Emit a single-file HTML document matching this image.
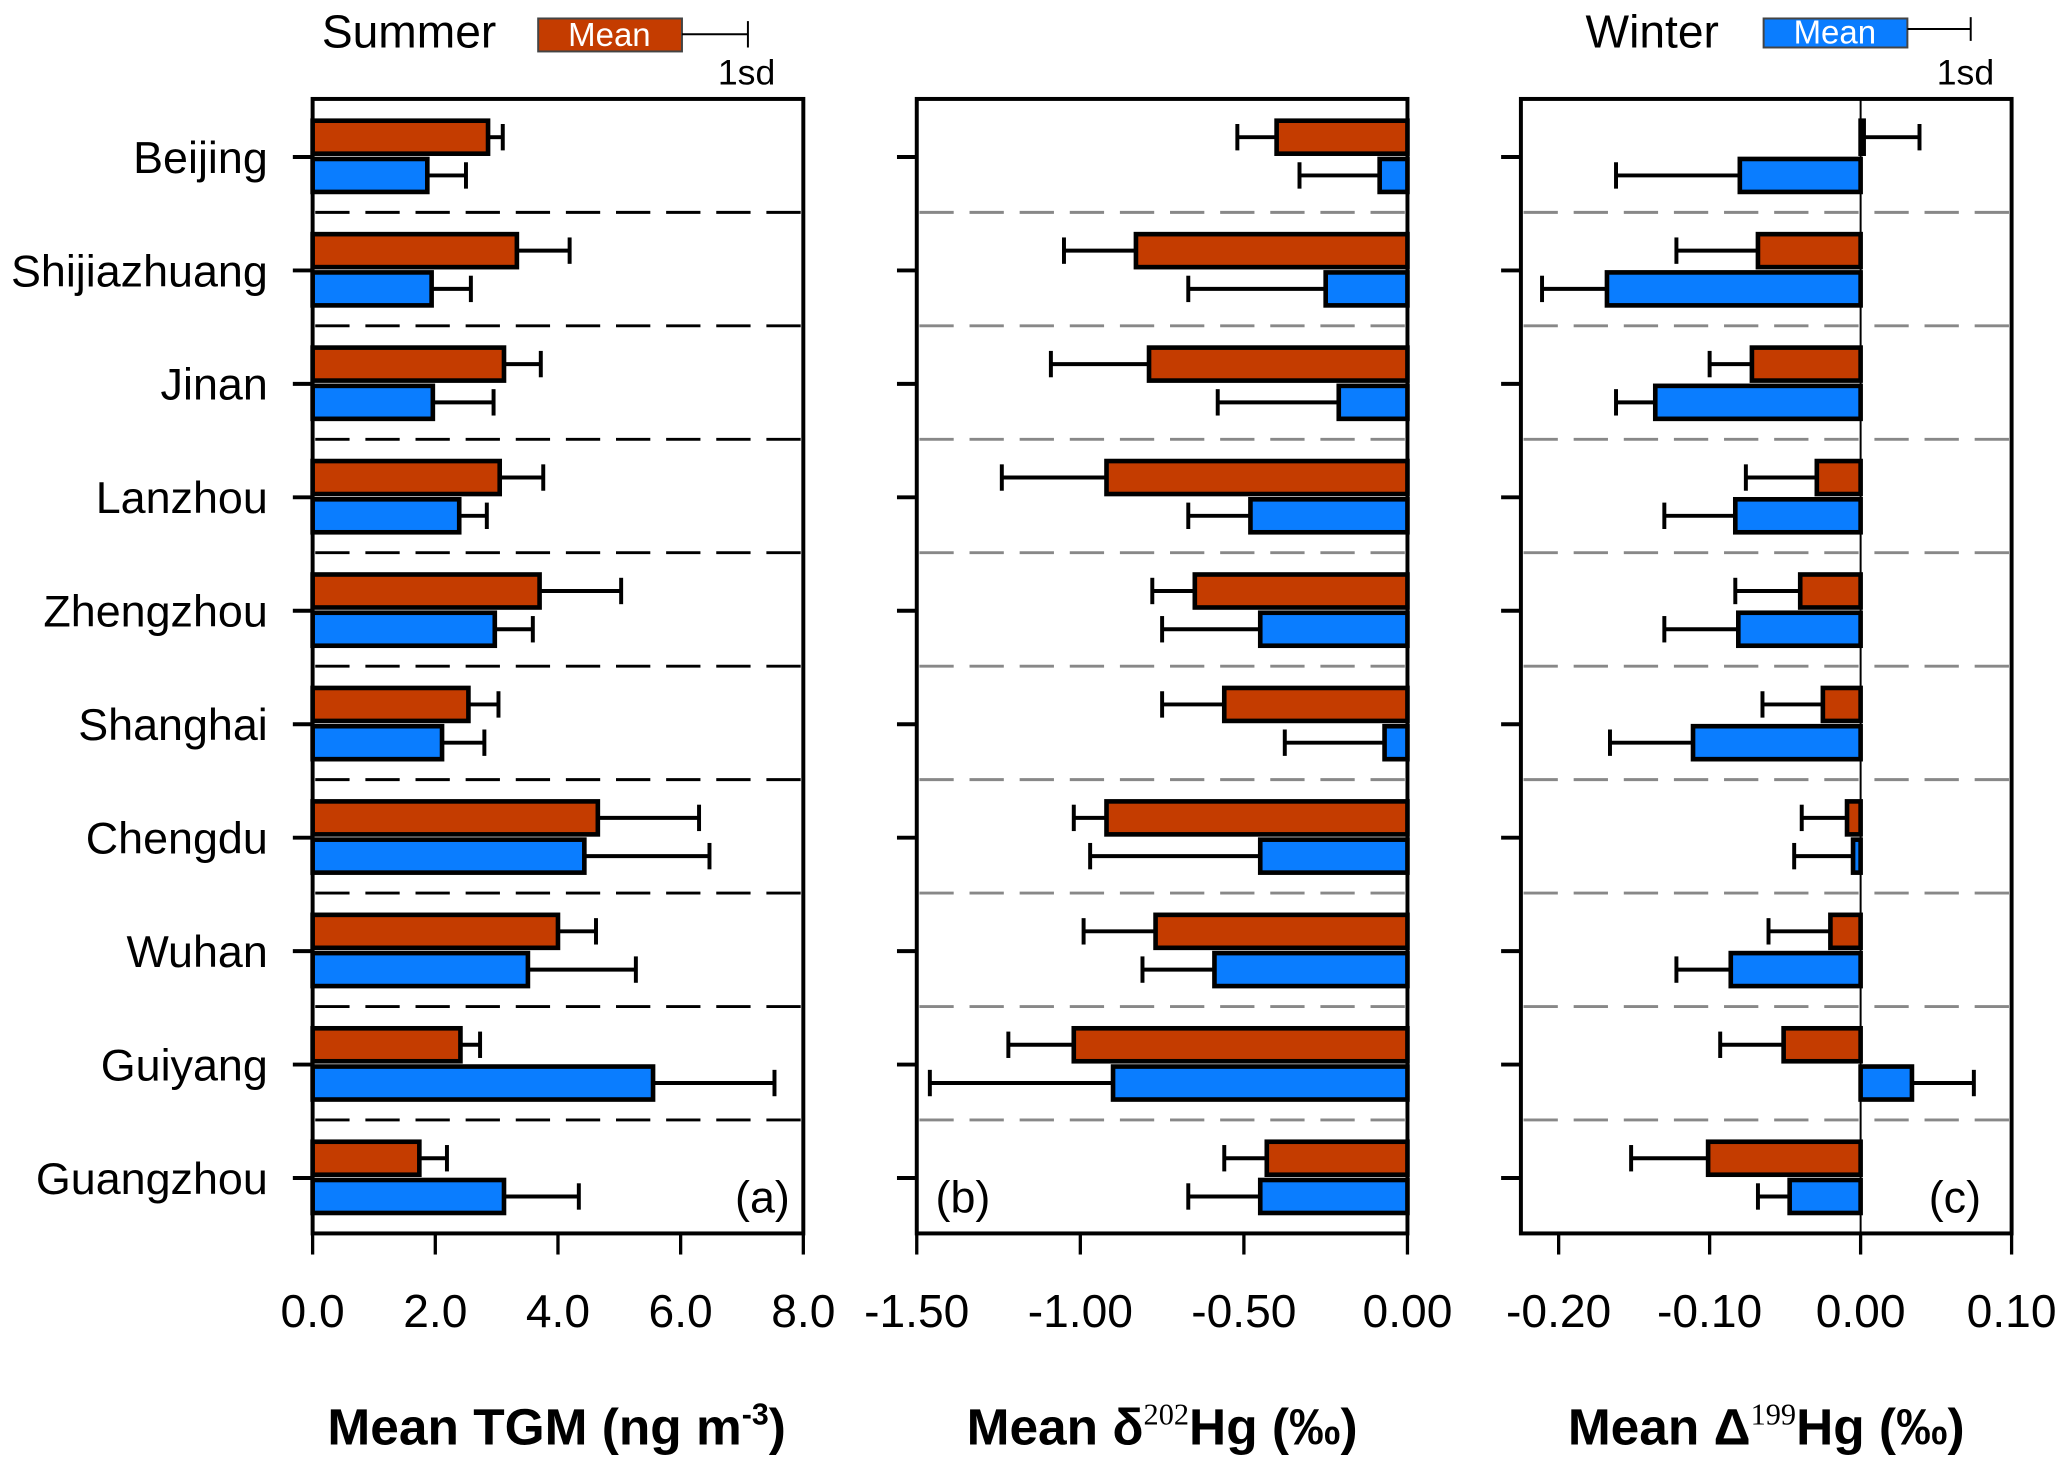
<!DOCTYPE html>
<html><head><meta charset="utf-8"><style>
html,body{margin:0;padding:0;background:#fff;}
svg{display:block;font-family:"Liberation Sans",sans-serif;}
</style></head><body>
<svg id="chart" width="2067" height="1459" viewBox="0 0 1567 1106" preserveAspectRatio="none" xmlns="http://www.w3.org/2000/svg">
<g id="legend">
<text x="244" y="36" font-size="35">Summer</text>
<rect x="408" y="14" width="109" height="25" fill="#c43c00" stroke="#444" stroke-width="1.5"/>
<text x="462" y="35" font-size="25" fill="#fff" text-anchor="middle">Mean</text>
<line x1="517" y1="26" x2="567" y2="26" stroke="#000" stroke-width="1.5"/><line x1="567" y1="16" x2="567" y2="36" stroke="#000" stroke-width="1.5"/>
<text x="566" y="64" font-size="27" text-anchor="middle">1sd</text>
<text x="1202" y="36" font-size="35">Winter</text>
<rect x="1337" y="14" width="109" height="22" fill="#0a7dff" stroke="#444" stroke-width="1.5"/>
<text x="1391" y="33" font-size="25" fill="#fff" text-anchor="middle">Mean</text>
<line x1="1446" y1="22" x2="1494" y2="22" stroke="#000" stroke-width="1.5"/><line x1="1494" y1="13" x2="1494" y2="31" stroke="#000" stroke-width="1.5"/>
<text x="1490" y="64" font-size="27" text-anchor="middle">1sd</text>
</g>
</svg>
<script>
const cities=["Beijing","Shijiazhuang","Jinan","Lanzhou","Zhengzhou","Shanghai","Chengdu","Wuhan","Guiyang","Guangzhou"];
const tgmSummerMean=[2.86,3.33,3.12,3.05,3.70,2.54,4.65,4.00,2.41,1.74];
const tgmSummerSd=[0.24,0.86,0.60,0.71,1.33,0.49,1.65,0.62,0.32,0.45];
const tgmWinterMean=[1.87,1.94,1.96,2.39,2.97,2.11,4.43,3.51,5.55,3.12];
const tgmWinterSd=[0.63,0.64,0.99,0.45,0.62,0.69,2.04,1.76,1.98,1.22];
const d202SummerMean=[-0.40,-0.83,-0.79,-0.92,-0.65,-0.56,-0.92,-0.77,-1.02,-0.43];
const d202SummerSd=[0.12,0.22,0.30,0.32,0.13,0.19,0.10,0.22,0.20,0.13];
const d202WinterMean=[-0.085,-0.25,-0.21,-0.48,-0.45,-0.07,-0.45,-0.59,-0.90,-0.45];
const d202WinterSd=[0.245,0.42,0.37,0.19,0.30,0.305,0.52,0.22,0.56,0.22];
const D199SummerMean=[0.002,-0.068,-0.072,-0.029,-0.040,-0.025,-0.009,-0.020,-0.051,-0.101];
const D199SummerSd=[0.037,0.054,0.028,0.047,0.043,0.040,0.030,0.041,0.042,0.051];
const D199WinterMean=[-0.080,-0.168,-0.136,-0.083,-0.081,-0.111,-0.005,-0.086,0.034,-0.047];
const D199WinterSd=[0.082,0.043,0.026,0.047,0.049,0.055,0.039,0.036,0.041,0.021];
const tgmTicks=["0.0","2.0","4.0","6.0","8.0"];
const d202Ticks=["-1.50","-1.00","-0.50","0.00"];
const D199Ticks=["-0.20","-0.10","0.00","0.10"];

const NS="http://www.w3.org/2000/svg";
const svg=document.getElementById('chart');
function mk(tag,attrs,parent){const e=document.createElementNS(NS,tag);for(const k in attrs)e.setAttribute(k,attrs[k]);(parent||svg).appendChild(e);return e;}
const TOP=75,BOT=935,ROW=86;
function rowY(i){return TOP+44+i*ROW;}

const panels=[
 {key:"a",x0:237,x1:609,min:0,max:8,ticks:tgmTicks,sm:tgmSummerMean,ss:tgmSummerSd,wm:tgmWinterMean,ws:tgmWinterSd,dash:"#000",zero:false,label:"(a)",lx:578,labels:true},
 {key:"b",x0:695,x1:1067,min:-1.5,max:0,ticks:d202Ticks,sm:d202SummerMean,ss:d202SummerSd,wm:d202WinterMean,ws:d202WinterSd,dash:"#888",zero:false,label:"(b)",lx:730},
 {key:"c",x0:1153,x1:1525,min:-0.225,max:0.1,ticks:D199Ticks,sm:D199SummerMean,ss:D199SummerSd,wm:D199WinterMean,ws:D199WinterSd,dash:"#888",zero:true,label:"(c)",lx:1482}
];
panels.forEach(p=>{
 const g=mk('g',{});
 
 
 const xs=v=>p.x0+(v-p.min)/(p.max-p.min)*(p.x1-p.x0);
 for(let i=0;i<cities.length-1;i++){
  const y=TOP+(i+1)*ROW;
  const l=mk('line',{x1:p.x0+2,x2:p.x1-2,y1:y,y2:y,stroke:p.dash,'stroke-width':2.2,'stroke-dasharray':'26 12'},g);
  
  
 }
 if(p.zero){const z=mk('line',{x1:xs(0),x2:xs(0),y1:TOP,y2:BOT,stroke:'#000','stroke-width':1.5},g);
  
  }
 function bar(m,s,yc,color,name){
  const x0=xs(0),xm=xs(m),dir=m>=0?1:-1,xe=xs(m+dir*s);
  const el=mk('line',{x1:xm,x2:xe,y1:yc,y2:yc,stroke:'#000','stroke-width':3},g);
  
  
  const cap=mk('line',{x1:xe,x2:xe,y1:yc-10,y2:yc+10,stroke:'#000','stroke-width':3},g);
  
  
  if(Math.abs(xm-x0)>2){
   const r=mk('rect',{x:Math.min(x0,xm),y:yc-12.5,width:Math.abs(xm-x0),height:25,fill:color,stroke:'#000','stroke-width':3.5},g);
   
   
  }
 }
 cities.forEach((c,i)=>{
  const yc=rowY(i);
  bar(p.sm[i],p.ss[i],yc-15,'#c43c00','bar-summer-'+c.toLowerCase());
  bar(p.wm[i],p.ws[i],yc+14,'#0a7dff','bar-winter-'+c.toLowerCase());
  const t=mk('line',{x1:p.x0-15,x2:p.x0,y1:yc,y2:yc,stroke:'#000','stroke-width':3},g);
  
  
  if(p.labels){const tx=mk('text',{x:203,y:yc+12,'font-size':34,'text-anchor':'end'},g);tx.textContent=c;
   
   }
 });
 const fr=mk('rect',{x:p.x0,y:TOP,width:p.x1-p.x0,height:BOT-TOP,fill:'none',stroke:'#000','stroke-width':3},g);
 
 
 p.ticks.forEach(tl=>{
  const x=xs(parseFloat(tl));
  const t=mk('line',{x1:x,x2:x,y1:BOT,y2:BOT+16,stroke:'#000','stroke-width':2.5},g);
  
  
  const tx=mk('text',{x:x,y:1006,'font-size':35,'text-anchor':'middle'},g);tx.textContent=tl;
  
  
 });
 const pl=mk('text',{x:p.lx,y:919,'font-size':34,'text-anchor':'middle'},g);pl.textContent=p.label;
 
 
});
</script>
<svg style="position:absolute;left:0;top:0" width="2067" height="1459" viewBox="0 0 1567 1106" preserveAspectRatio="none" xmlns="http://www.w3.org/2000/svg" font-family="Liberation Sans, sans-serif">
<text x="422" y="1095" font-size="39" font-weight="bold" text-anchor="middle">Mean TGM (ng m<tspan dy="-15" font-size="23">-3</tspan><tspan dy="15">)</tspan></text>
<text x="881" y="1095" font-size="39" font-weight="bold" text-anchor="middle">Mean δ<tspan dy="-15" font-size="23" font-family="Liberation Serif, serif" font-weight="normal">202</tspan><tspan dy="15">Hg (‰)</tspan></text>
<text x="1339" y="1095" font-size="39" font-weight="bold" text-anchor="middle">Mean Δ<tspan dy="-15" font-size="23" font-family="Liberation Serif, serif" font-weight="normal">199</tspan><tspan dy="15">Hg (‰)</tspan></text>
</svg>
</body></html>
